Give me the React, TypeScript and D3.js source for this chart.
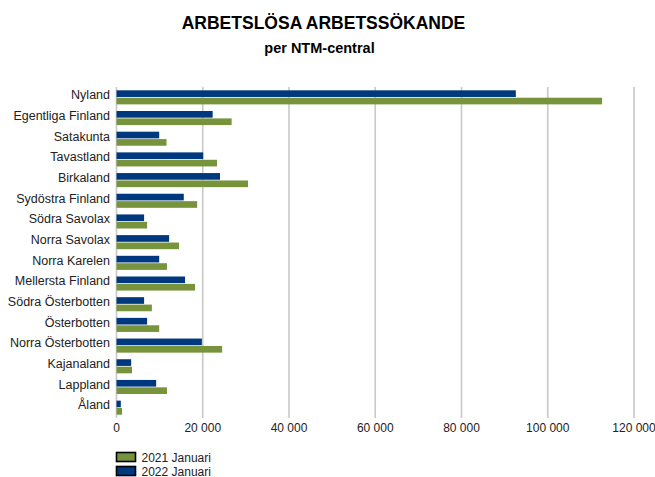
import { useEffect, useRef } from "react";
import * as d3 from "d3";

const regions = [
  "Nyland",
  "Egentliga Finland",
  "Satakunta",
  "Tavastland",
  "Birkaland",
  "Sydöstra Finland",
  "Södra Savolax",
  "Norra Savolax",
  "Norra Karelen",
  "Mellersta Finland",
  "Södra Österbotten",
  "Österbotten",
  "Norra Österbotten",
  "Kajanaland",
  "Lappland",
  "Åland",
];

const jan2021 = [
  112600, 26700, 11600, 23300, 30500, 18700, 7100, 14500, 11700, 18200, 8200,
  9900, 24500, 3600, 11700, 1300,
];

const jan2022 = [
  92600, 22300, 9900, 20100, 24000, 15600, 6400, 12200, 9900, 15900, 6400,
  7100, 19800, 3400, 9200, 1000,
];

const xTicks = [0, 20000, 40000, 60000, 80000, 100000, 120000];

const seriesNames = ["2021 Januari", "2022 Januari"];
const GREEN = "#77933c";
const BLUE = "#00387f";

function drawChart(svgEl: SVGSVGElement) {
  const svg = d3.select(svgEl);
  svg.selectAll("*").remove();

  const width = 655;
  const font = "Arial, 'Liberation Sans', sans-serif";
  const top = 87;
  const bottom = 418;

  const x = d3.scaleLinear().domain([0, 120000]).range([116.5, 634]);
  const y = d3
    .scaleBand()
    .domain(regions)
    .range([top, bottom])
    .paddingInner(0.32)
    .paddingOuter(0.16);
  const sub = d3
    .scaleBand()
    .domain(["2022", "2021"])
    .range([0, y.bandwidth()])
    .paddingInner(0.1);

  const fmt = (v: number) => d3.format(",d")(v).replace(/,/g, " ");

  // title
  svg
    .append("text")
    .attr("x", width / 2 - 4)
    .attr("y", 29)
    .attr("text-anchor", "middle")
    .attr("font-family", font)
    .attr("font-weight", "bold")
    .attr("font-size", 17.5)
    .attr("fill", "#000")
    .text("ARBETSLÖSA ARBETSSÖKANDE");

  svg
    .append("text")
    .attr("x", width / 2 - 8)
    .attr("y", 53)
    .attr("text-anchor", "middle")
    .attr("font-family", font)
    .attr("font-weight", "bold")
    .attr("font-size", 14.5)
    .attr("fill", "#000")
    .text("per NTM-central");

  // gridlines
  svg
    .append("g")
    .selectAll("line")
    .data(xTicks)
    .join("line")
    .attr("x1", (d) => x(d))
    .attr("x2", (d) => x(d))
    .attr("y1", top)
    .attr("y2", bottom)
    .attr("stroke", "#c8c8c8")
    .attr("stroke-width", 1.6);

  // tick labels
  svg
    .append("g")
    .attr("font-family", font)
    .attr("font-size", 12)
    .attr("fill", "#222")
    .attr("text-anchor", "middle")
    .selectAll("text")
    .data(xTicks)
    .join("text")
    .attr("x", (d) => x(d))
    .attr("y", 432)
    .text((d) => fmt(d));

  // category labels
  svg
    .append("g")
    .attr("font-family", font)
    .attr("font-size", 12.5)
    .attr("fill", "#222")
    .attr("text-anchor", "end")
    .selectAll("text")
    .data(regions)
    .join("text")
    .attr("x", 110)
    .attr("y", (d) => y(d)! + y.bandwidth() / 2 + 1.8)
    .text((d) => d);

  // bars
  const bars = svg.append("g");
  bars
    .selectAll("rect.b22")
    .data(jan2022)
    .join("rect")
    .attr("class", "b22")
    .attr("x", x(0))
    .attr("y", (d, i) => y(regions[i])! + sub("2022")!)
    .attr("width", (d) => x(d) - x(0))
    .attr("height", sub.bandwidth())
    .attr("fill", BLUE);
  bars
    .selectAll("rect.b21")
    .data(jan2021)
    .join("rect")
    .attr("class", "b21")
    .attr("x", x(0))
    .attr("y", (d, i) => y(regions[i])! + sub("2021")!)
    .attr("width", (d) => x(d) - x(0))
    .attr("height", sub.bandwidth())
    .attr("fill", GREEN);

  // legend
  const legend = svg
    .append("g")
    .selectAll("g")
    .data(seriesNames)
    .join("g")
    .attr("transform", (d, i) => `translate(116.5,${452.5 + i * 14})`);
  legend
    .append("rect")
    .attr("width", 19)
    .attr("height", 9)
    .attr("fill", (d, i) => (i === 0 ? GREEN : BLUE))
    .attr("stroke", "#000")
    .attr("stroke-width", 1.6);
  legend
    .append("text")
    .attr("x", 25)
    .attr("y", 9)
    .attr("font-family", font)
    .attr("font-size", 12)
    .attr("fill", "#222")
    .text((d) => d);
}

export default function App() {
  const svgRef = useRef<SVGSVGElement>(null);
  useEffect(() => {
    if (svgRef.current) drawChart(svgRef.current);
  }, []);
  return (
    <svg
      ref={svgRef}
      width={655}
      height={477}
      style={{ position: "absolute", left: 0, top: 0, background: "#fff" }}
    />
  );
}
